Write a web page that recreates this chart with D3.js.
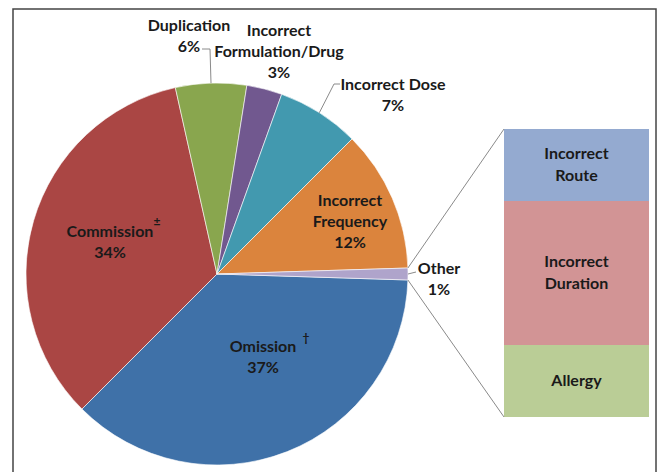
<!DOCTYPE html>
<html><head><meta charset="utf-8">
<script src="https://cdn.jsdelivr.net/npm/d3@7"></script>
<style>body{margin:0;background:#fff}svg{display:block}text{font-family:Lato,"Open Sans",sans-serif;font-weight:bold;fill:#1a1a1a}</style>
</head><body>
<svg id="c" width="659" height="472"></svg>
<script>
const categories = ["Omission","Commission","Duplication","Incorrect Formulation/Drug","Incorrect Dose","Incorrect Frequency","Other"];
const values = [37,34,6,3,7,12,1];
const colors = ["#3F71A8","#AA4644","#89A64E","#71588F","#4299AF","#DB843D","#AFA4CB"];
const otherCategories = ["Incorrect Route","Incorrect Duration","Allergy"];
const otherValues = [1,2,1];
const otherColors = ["#94AAD0","#D29495","#BACD96"];

const svg = d3.select("#c");
svg.append("rect").attr("x",13).attr("y",9).attr("width",643).attr("height",480)
  .attr("fill","none").attr("stroke","#444").attr("stroke-width",1.5);

const cx=217, cy=274, R=191;
const total = d3.sum(values);
const half = values[values.length-1]/total*Math.PI;
const pie = d3.pie().sort(null).startAngle(Math.PI/2+half).endAngle(Math.PI/2+half+2*Math.PI);
const arcs = pie(values);
const arc = d3.arc().innerRadius(0).outerRadius(R);
const g = svg.append("g").attr("transform",`translate(${cx},${cy})`);
g.selectAll("path").data(arcs).join("path").attr("d",arc)
  .attr("fill",(d,i)=>colors[i]).attr("stroke","#fff").attr("stroke-width",0.6);

// secondary bar
const bx=504, bw=145;
const y = d3.scaleLinear().domain([0,d3.sum(otherValues)]).range([129,417]);
const cum = d3.cumsum(otherValues);
const starts = otherValues.map((v,i)=>cum[i]-v);
svg.selectAll("rect.bar").data(otherValues).join("rect").attr("class","bar")
  .attr("x",bx).attr("width",bw).attr("y",(d,i)=>y(starts[i])).attr("height",d=>y(d)-y(0))
  .attr("fill",(d,i)=>otherColors[i]);
const oArc = arcs[arcs.length-1];
const pt = a=>[cx+R*Math.sin(a), cy-R*Math.cos(a)];
const p0 = pt(oArc.startAngle - 2*Math.PI), p1 = pt(oArc.endAngle - 2*Math.PI);
svg.append("line").attr("x1",p0[0]).attr("y1",p0[1]).attr("x2",bx).attr("y2",y(0)).attr("stroke","#8a8a8a").attr("stroke-width",1);
svg.append("line").attr("x1",p1[0]).attr("y1",p1[1]).attr("x2",bx).attr("y2",y(d3.sum(otherValues))).attr("stroke","#8a8a8a").attr("stroke-width",1);

const fs=16, lh=21;
const barLines = [["Incorrect","Route"],["Incorrect","Duration"],["Allergy"]];
otherValues.forEach((v,i)=>{
  const mid = (y(starts[i])+y(cum[i]))/2;
  const lines = barLines[i];
  lines.forEach((t,j)=>{
    svg.append("text").attr("x",bx+bw/2).attr("y",mid+(j-(lines.length-1)/2)*22+5)
      .attr("text-anchor","middle").attr("font-size",fs).text(t);
  });
});

const labelLayout = [
  {lines:["Omission"], x:263, y:347, sup:"†", sx:306, sy:342},
  {lines:["Commission"], x:110, y:232, sup:"±", sx:157, sy:226},
  {lines:["Duplication"], x:189, y:26, leader:[[202,49],[210,49]]},
  {lines:["Incorrect","Formulation/Drug"], x:279, y:31},
  {lines:["Incorrect Dose"], x:393, y:85, leader:[[340,84],[334,84]]},
  {lines:["Incorrect","Frequency"], x:350, y:201},
  {lines:["Other"], x:439, y:269, leader:[[416,272]]}
];
arcs.forEach((d,i)=>{
  const L = labelLayout[i];
  const pct = Math.round(d.data/total*100)+"%";
  const all = L.lines.concat([pct]);
  all.forEach((t,j)=>{
    svg.append("text").attr("x",L.x).attr("y",L.y+j*lh+5).attr("text-anchor","middle")
      .attr("font-size",fs).text(t);
  });
  if(L.sup){
    svg.append("text").attr("x",L.sx).attr("y",L.sy).attr("text-anchor","middle").attr("font-size",12).text(L.sup);
  }
  if(L.leader){
    const m = (d.startAngle+d.endAngle)/2;
    const pts = L.leader.concat([pt(m)]);
    svg.append("path").attr("d",d3.line()(pts)).attr("fill","none").attr("stroke","#8a8a8a").attr("stroke-width",1);
  }
});
</script>
</body></html>
